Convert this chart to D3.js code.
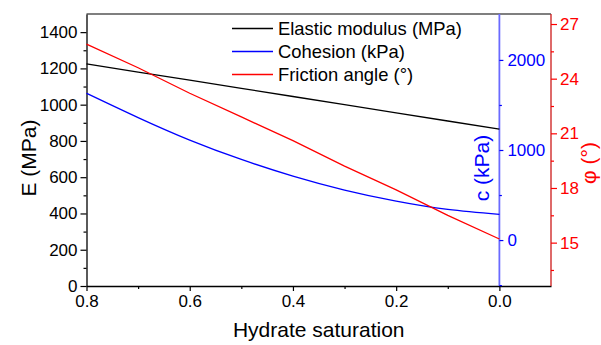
<!DOCTYPE html>
<html>
<head>
<meta charset="utf-8">
<script src="https://cdn.jsdelivr.net/npm/d3@7/dist/d3.min.js"></script>
<style>
  html, body { margin: 0; padding: 0; background: #fff; }
  svg { display: block; font-family: "Liberation Sans", Arial, sans-serif; }
</style>
</head>
<body>
<svg id="chart" width="601" height="345"></svg>
<script>
// Hydrate saturation (x), shared by all three series
const saturation = [0.8, 0.7, 0.6, 0.5, 0.4, 0.3, 0.2, 0.1, 0.0];
// Elastic modulus, MPa
const modulus = [1225, 1180, 1135, 1090, 1045, 1000, 955, 910, 865];
// Cohesion, kPa
const cohesion = [1630, 1360, 1110, 895, 710, 555, 432, 340, 285];
// Friction angle, degrees
const friction = [25.9, 24.6, 23.2, 21.9, 20.6, 19.2, 17.9, 16.5, 15.2];

const xTicks = [0.8, 0.6, 0.4, 0.2, 0.0];
const xMinor = [0.7, 0.5, 0.3, 0.1];
const eTicks = [0, 200, 400, 600, 800, 1000, 1200, 1400];
const eMinor = [100, 300, 500, 700, 900, 1100, 1300];
const cTicks = [0, 1000, 2000];
const cMinor = [-500, 500, 1500];
const phiTicks = [15, 18, 21, 24, 27];
const phiMinor = [13.5, 16.5, 19.5, 22.5, 25.5];

const seriesNames = ["Elastic modulus (MPa)", "Cohesion (kPa)", "Friction angle (°)"];
const seriesColors = ["#000000", "#0000ff", "#ff0000"];

const plotLeft = 86.5, plotRight = 551, plotTop = 14, plotBottom = 286;

const svg = d3.select("#chart");

const x = d3.scaleLinear().domain([0.8, -0.1]).range([plotLeft, plotRight]);
const yE = d3.scaleLinear().domain([0, 1500]).range([plotBottom, plotTop]);
const yC = d3.scaleLinear().domain([-510, 2510]).range([plotBottom, plotTop]);
const yPhi = d3.scaleLinear().domain([12.62, 27.55]).range([plotBottom, plotTop]);

const tickFont = "17px";
const intFmt = d3.format("d");

// top frame line
svg.append("line")
  .attr("x1", plotLeft).attr("x2", plotRight).attr("y1", plotTop).attr("y2", plotTop)
  .attr("stroke", "#555").attr("stroke-width", 1.3);

function styleAxis(g, color, lineColor) {
  g.attr("font-family", null);
  g.selectAll("path").attr("stroke", lineColor).attr("stroke-width", 1.3);
  g.selectAll("line").attr("stroke", color).attr("stroke-width", 1.2);
  g.selectAll("text").attr("fill", color).style("font-size", tickFont)
    .style("font-family", "'Liberation Sans', Arial, sans-serif");
}

// x axis
const gx = svg.append("g").attr("transform", `translate(0,${plotBottom})`)
  .call(d3.axisBottom(x).tickValues(xTicks).tickFormat(d3.format(".1f"))
    .tickSize(5).tickSizeOuter(0).tickPadding(4));
styleAxis(gx, "#000", "#000");
svg.append("g").attr("transform", `translate(0,${plotBottom})`)
  .call(d3.axisBottom(x).tickValues(xMinor).tickSize(3).tickSizeOuter(0).tickFormat(""))
  .call(g => { g.select("path").remove(); g.selectAll("line").attr("stroke", "#000").attr("stroke-width", 1.2); });

// left E axis
const gE = svg.append("g").attr("transform", `translate(${plotLeft},0)`)
  .call(d3.axisLeft(yE).tickValues(eTicks).tickFormat(intFmt).tickSize(6).tickSizeOuter(0).tickPadding(3));
styleAxis(gE, "#000", "#000");
svg.append("g").attr("transform", `translate(${plotLeft},0)`)
  .call(d3.axisLeft(yE).tickValues(eMinor).tickSize(3).tickFormat(""))
  .call(g => { g.select("path").remove(); g.selectAll("line").attr("stroke", "#000").attr("stroke-width", 1.2); });

// cohesion axis sits at saturation 0
const cx = x(0);
const gC = svg.append("g").attr("transform", `translate(${cx},0)`)
  .call(d3.axisRight(yC).tickValues(cTicks).tickFormat(intFmt).tickSize(4).tickSizeOuter(0).tickPadding(4));
styleAxis(gC, "#0000ff", "#6a6aff");
gC.select("path").attr("d", `M0,${plotTop}V${plotBottom}`).attr("stroke-width", 1.8);
svg.append("g").attr("transform", `translate(${cx},0)`)
  .call(d3.axisRight(yC).tickValues(cMinor).tickSize(2.5).tickFormat(""))
  .call(g => { g.select("path").remove(); g.selectAll("line").attr("stroke", "#0000ff").attr("stroke-width", 1.2); });

// friction angle axis on the far right
const gP = svg.append("g").attr("transform", `translate(${plotRight},0)`)
  .call(d3.axisRight(yPhi).tickValues(phiTicks).tickFormat(intFmt).tickSize(6).tickSizeOuter(0).tickPadding(3));
styleAxis(gP, "#ff0000", "#cc1a1a");
gP.select("path").attr("d", `M0,${plotTop}V${plotBottom}`);
svg.append("g").attr("transform", `translate(${plotRight},0)`)
  .call(d3.axisRight(yPhi).tickValues(phiMinor).tickSize(3).tickFormat(""))
  .call(g => { g.select("path").remove(); g.selectAll("line").attr("stroke", "#ff0000").attr("stroke-width", 1.2); });

// series lines
const lineE = d3.line().x((d, i) => x(saturation[i])).y(d => yE(d));
const lineC = d3.line().x((d, i) => x(saturation[i])).y(d => yC(d)).curve(d3.curveNatural);
const lineP = d3.line().x((d, i) => x(saturation[i])).y(d => yPhi(d));

svg.append("path").datum(modulus).attr("d", lineE)
  .attr("fill", "none").attr("stroke", seriesColors[0]).attr("stroke-width", 1.3);
svg.append("path").datum(cohesion).attr("d", lineC)
  .attr("fill", "none").attr("stroke", seriesColors[1]).attr("stroke-width", 1.3);
svg.append("path").datum(friction).attr("d", lineP)
  .attr("fill", "none").attr("stroke", seriesColors[2]).attr("stroke-width", 1.3);

// axis titles
svg.append("text")
  .attr("x", x(0.35)).attr("y", 337)
  .attr("text-anchor", "middle").style("font-size", "21px").attr("fill", "#000")
  .text("Hydrate saturation");

svg.append("text")
  .attr("transform", `translate(36,158) rotate(-90)`)
  .attr("text-anchor", "middle").style("font-size", "21px").attr("fill", "#000")
  .text("E (MPa)");

svg.append("text")
  .attr("transform", `translate(489,168) rotate(-90)`)
  .attr("text-anchor", "middle").style("font-size", "21px").attr("fill", "#0000ff")
  .text("c (kPa)");

svg.append("text")
  .attr("transform", `translate(596,163) rotate(-90)`)
  .attr("text-anchor", "middle").style("font-size", "21px").attr("fill", "#ff0000")
  .text("φ (°)");

// legend
const legend = svg.append("g");
seriesNames.forEach((name, i) => {
  const ly = 28.5 + i * 23;
  legend.append("line")
    .attr("x1", 232).attr("x2", 273).attr("y1", ly).attr("y2", ly)
    .attr("stroke", seriesColors[i]).attr("stroke-width", 1.3);
  legend.append("text")
    .attr("x", 278).attr("y", ly + 6.5)
    .style("font-size", "18.4px").attr("fill", "#000")
    .text(name);
});
</script>
</body>
</html>
